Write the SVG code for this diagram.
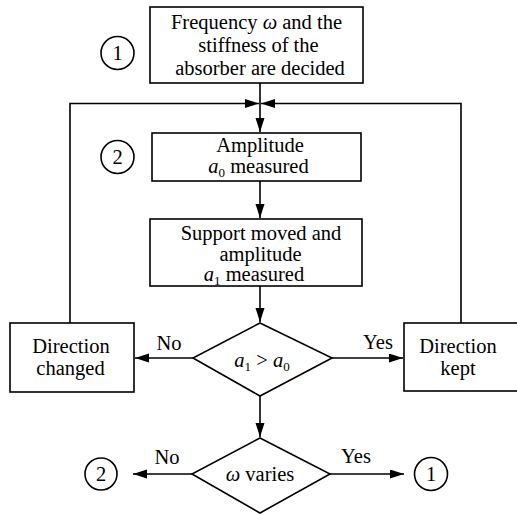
<svg xmlns="http://www.w3.org/2000/svg" width="517" height="515" viewBox="0 0 517 515">
<style>
.box{fill:#fff;stroke:#000;stroke-width:1.6}
.ln{fill:none;stroke:#000;stroke-width:1.6}
.t{font-family:'Liberation Serif','Times New Roman',serif;font-size:20.5px;fill:#000;text-anchor:middle}
.i{font-style:italic}
.s{font-size:13px}
</style>
<defs>
<marker id="ah" markerUnits="userSpaceOnUse" markerWidth="16" markerHeight="10" refX="14" refY="4.5" orient="auto">
<path d="M0,0 L14,4.5 L0,9 Z" fill="#000"/>
</marker>
</defs>
<rect width="517" height="515" fill="#fff"/>
<g id="connectors">
<line class="ln" x1="260" y1="83" x2="260" y2="132" marker-end="url(#ah)"/>
<polyline class="ln" points="70,323 70,103.5 259,103.5" marker-end="url(#ah)"/>
<polyline class="ln" points="461,323 461,103.5 261,103.5" marker-end="url(#ah)"/>
<line class="ln" x1="260" y1="181" x2="260" y2="218" marker-end="url(#ah)"/>
<line class="ln" x1="260" y1="286" x2="260" y2="322" marker-end="url(#ah)"/>
<line class="ln" x1="193" y1="358" x2="135" y2="358" marker-end="url(#ah)"/>
<line class="ln" x1="332" y1="358" x2="403" y2="358" marker-end="url(#ah)"/>
<line class="ln" x1="260" y1="396" x2="260" y2="437" marker-end="url(#ah)"/>
<line class="ln" x1="192" y1="474" x2="133" y2="474" marker-end="url(#ah)"/>
<line class="ln" x1="330" y1="474" x2="404" y2="474" marker-end="url(#ah)"/>
<text class="t" x="169" y="350">No</text>
<text class="t" x="378" y="349">Yes</text>
<text class="t" x="167" y="464">No</text>
<text class="t" x="356" y="463">Yes</text>
</g>
<g id="n1">
<rect class="box" x="150" y="7" width="213" height="76"/>
<text class="t" x="256.5" y="29">Frequency <tspan class="i">ω</tspan> and the</text>
<text class="t" x="258.5" y="52">stiffness of the</text>
<text class="t" x="260" y="75">absorber are decided</text>
</g>
<g id="c1top">
<circle class="ln" cx="117.5" cy="53" r="16.5"/>
<text class="t" x="117.5" y="60">1</text>
</g>
<g id="n2">
<rect class="box" x="152" y="133" width="209" height="48"/>
<text class="t" x="260" y="152">Amplitude</text>
<text class="t" x="258.5" y="173"><tspan class="i">a</tspan><tspan class="s" dy="4">0</tspan><tspan dy="-4"> measured</tspan></text>
</g>
<g id="c2top">
<circle class="ln" cx="117.5" cy="157" r="16.5"/>
<text class="t" x="117.5" y="164">2</text>
</g>
<g id="n3">
<rect class="box" x="150" y="219" width="212" height="67"/>
<text class="t" x="261" y="240">Support moved and</text>
<text class="t" x="260.5" y="261">amplitude</text>
<text class="t" x="254" y="281"><tspan class="i">a</tspan><tspan class="s" dy="4">1</tspan><tspan dy="-4"> measured</tspan></text>
</g>
<g id="d1">
<polygon class="box" points="260,323 332,358 260,396 193,358"/>
<text class="t" x="262" y="367"><tspan class="i">a</tspan><tspan class="s" dy="4">1</tspan><tspan dy="-4"> &gt; </tspan><tspan class="i">a</tspan><tspan class="s" dy="4">0</tspan></text>
</g>
<g id="n4">
<rect class="box" x="10" y="323" width="124" height="69"/>
<text class="t" x="71" y="353">Direction</text>
<text class="t" x="70.5" y="375">changed</text>
</g>
<g id="n5">
<rect class="box" x="404" y="323" width="116" height="68"/>
<text class="t" x="458" y="353">Direction</text>
<text class="t" x="458" y="375">kept</text>
</g>
<g id="d2">
<polygon class="box" points="260,438 330,474 260,513 192,474"/>
<text class="t" x="260" y="481"><tspan class="i">ω</tspan> varies</text>
</g>
<g id="c2b">
<circle class="ln" cx="101" cy="474" r="16"/>
<text class="t" x="101" y="481">2</text>
</g>
<g id="c1b">
<circle class="ln" cx="431" cy="474" r="16.5"/>
<text class="t" x="431" y="481">1</text>
</g>
</svg>
